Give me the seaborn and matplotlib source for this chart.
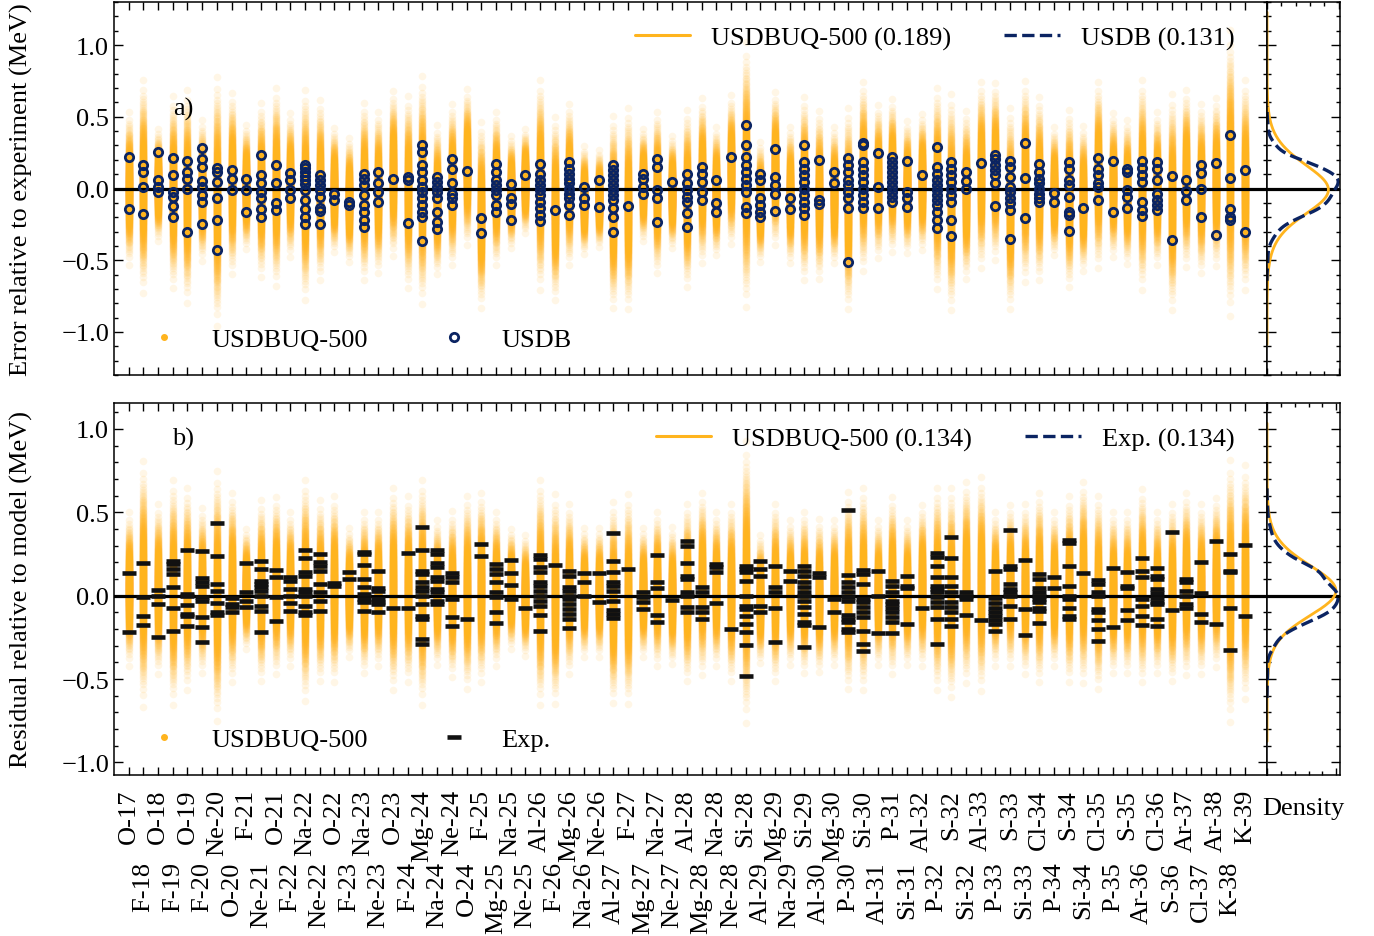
import numpy as np
import pandas as pd
import matplotlib
matplotlib.use("Agg")
import matplotlib.pyplot as plt
import seaborn as sns
from matplotlib.lines import Line2D
from matplotlib.ticker import MultipleLocator
from statistics import NormalDist

# ---------------- data ----------------
nuclei = ["O-17", "F-18", "O-18", "F-19", "O-19", "F-20", "Ne-20", "O-20", "F-21", "Ne-21",
          "O-21", "F-22", "Na-22", "Ne-22", "O-22", "F-23", "Na-23", "Ne-23", "O-23", "F-24",
          "Mg-24", "Na-24", "Ne-24", "O-24", "F-25", "Mg-25", "Na-25", "Ne-25", "Al-26", "F-26",
          "Mg-26", "Na-26", "Ne-26", "Al-27", "F-27", "Mg-27", "Na-27", "Ne-27", "Al-28", "Mg-28",
          "Na-28", "Ne-28", "Si-28", "Al-29", "Mg-29", "Na-29", "Si-29", "Al-30", "Mg-30", "P-30",
          "Si-30", "Al-31", "P-31", "Si-31", "Al-32", "P-32", "S-32", "Si-32", "Al-33", "P-33",
          "S-33", "Si-33", "Cl-34", "P-34", "S-34", "Si-34", "Cl-35", "P-35", "S-35", "Ar-36",
          "Cl-36", "S-36", "Ar-37", "Cl-37", "Ar-38", "K-38", "K-39"]

# USDB error relative to experiment (MeV), per nucleus
usdb_err = [
    [0.22, -0.144], [0.167, 0.113, 0.012, -0.178], [0.257, 0.058, 0.012, -0.023],
    [0.215, 0.093, -0.023, -0.058, -0.123, -0.197], [0.19, 0.116, 0.069, 0.0, -0.30],
    [0.285, 0.208, 0.15, 0.051, 0.012, -0.046, -0.093, -0.25], [0.144, 0.116, 0.046, -0.069, -0.22, -0.428],
    [0.127, 0.069, -0.007], [0.069, -0.012, -0.162], [0.231, 0.093, 0.035, -0.023, -0.069, -0.144, -0.2],
    [0.162, 0.039, -0.1, -0.15], [0.111, 0.058, -0.012, -0.069],
    [0.162, 0.14, 0.116, 0.09, 0.06, 0.03, -0.01, -0.08, -0.14, -0.2, -0.25],
    [0.093, 0.058, 0.023, -0.012, -0.058, -0.139, -0.16, -0.248], [-0.035, -0.081], [-0.097, -0.116],
    [0.104, 0.069, 0.023, -0.046, -0.116, -0.162, -0.22, -0.266], [0.116, 0.035, -0.023, -0.093], [0.069],
    [0.081, 0.058, -0.243],
    [0.30, 0.255, 0.162, 0.116, 0.058, 0.012, -0.023, -0.069, -0.116, -0.162, -0.197, -0.366],
    [0.081, 0.046, 0.012, -0.023, -0.069, -0.162, -0.231, -0.282], [0.208, 0.134, 0.035, -0.035, -0.069, -0.116],
    [0.123], [-0.208, -0.308], [0.169, 0.116, 0.058, 0.023, -0.012, -0.046, -0.116, -0.162],
    [0.028, -0.065, -0.109, -0.222], [0.093],
    [0.174, 0.104, 0.058, 0.023, -0.012, -0.046, -0.093, -0.139, -0.185, -0.227], [-0.15],
    [0.185, 0.139, 0.104, 0.069, 0.035, 0.0, -0.035, -0.069, -0.116, -0.185], [0.007, -0.069, -0.116],
    [0.058, -0.13], [0.162, 0.127, 0.093, 0.058, 0.023, -0.012, -0.046, -0.081, -0.139, -0.197, -0.30],
    [-0.12], [0.104, 0.069, 0.012, -0.035], [0.208, 0.15, -0.012, -0.069, -0.236], [0.046],
    [0.104, 0.035, -0.012, -0.058, -0.093, -0.174, -0.266], [0.15, 0.104, 0.046, -0.023, -0.081],
    [0.062, -0.104, -0.162], [0.22], [0.44, 0.30, 0.22, 0.162, 0.116, 0.069, 0.023, -0.023, -0.127, -0.174],
    [0.104, 0.058, -0.069, -0.116, -0.162, -0.197], [0.278, 0.081, 0.023, -0.035, -0.157], [-0.069, -0.144],
    [0.30, 0.185, 0.139, 0.093, 0.046, 0.0, -0.046, -0.093, -0.139, -0.185], [0.20, -0.081, -0.109],
    [0.116, 0.035], [0.213, 0.162, 0.116, 0.058, 0.023, -0.023, -0.069, -0.139, -0.509],
    [0.319, 0.30, 0.185, 0.139, 0.093, 0.046, 0.0, -0.046, -0.093, -0.139], [0.248, 0.012, -0.134],
    [0.22, 0.185, 0.15, 0.116, 0.081, 0.046, 0.012, -0.023, -0.058, -0.097], [0.192, -0.023, -0.069, -0.127],
    [0.093], [0.289, 0.15, 0.104, 0.058, 0.023, -0.012, -0.046, -0.081, -0.116, -0.162, -0.22, -0.278],
    [0.185, 0.139, 0.093, 0.046, 0.0, -0.046, -0.093, -0.22, -0.329], [0.116, 0.051, 0.0], [0.18],
    [0.231, 0.208, 0.162, 0.127, 0.093, 0.035, -0.12], [0.19, 0.15, 0.081, 0.012, -0.023, -0.069, -0.104, -0.15, -0.352],
    [0.317, 0.074, -0.208], [0.169, 0.116, 0.069, 0.035, 0.0, -0.035, -0.069, -0.093], [-0.03, -0.093],
    [0.185, 0.139, 0.058, 0.023, -0.062, -0.162, -0.185, -0.294], [-0.139], [0.213, 0.139, 0.093, 0.035, 0.012, -0.081],
    [0.19, -0.162], [0.139, 0.116, -0.012, -0.058, -0.134], [0.19, 0.146, 0.093, 0.046, -0.093, -0.15, -0.19],
    [0.185, 0.134, 0.058, -0.035, -0.081, -0.116, -0.15], [0.088, -0.361], [0.062, -0.019, -0.081],
    [0.162, 0.109, 0.0, -0.201], [0.178, -0.326], [0.375, 0.074, -0.146, -0.197, -0.22], [0.127, -0.30],
]

# Experiment residual relative to model mean (MeV), per nucleus
exp_resid = [
    [0.136, -0.216], [0.194, -0.01, -0.12, -0.176], [0.034, 0.0, -0.05, -0.245],
    [0.21, 0.19, 0.16, 0.13, 0.05, -0.076, -0.21], [0.275, 0.01, 0.0, -0.056, -0.11, -0.12, -0.18],
    [0.27, 0.104, 0.084, 0.06, -0.01, -0.03, -0.13, -0.19, -0.275], [0.435, 0.236, 0.07, 0.03, -0.044, -0.1, -0.116],
    [-0.016, -0.05, -0.07, -0.1], [0.194, 0.02, -0.034, -0.07],
    [0.21, 0.16, 0.09, 0.07, 0.05, 0.03, -0.004, -0.06, -0.09, -0.22], [0.154, 0.114, -0.01, -0.15],
    [0.11, 0.09, 0.04, 0.0, -0.044, -0.094], [0.273, 0.226, 0.14, 0.12, 0.04, 0.02, 0.0, -0.064, -0.096, -0.116],
    [0.25, 0.2, 0.18, 0.15, 0.07, 0.02, -0.03, -0.09], [0.076, 0.06], [0.14, 0.1],
    [0.26, 0.25, 0.186, 0.1, 0.05, 0.01, -0.02, -0.04, -0.094], [0.146, 0.044, 0.03, -0.02, -0.036, -0.05, -0.1],
    [-0.076], [0.253, -0.076],
    [0.413, 0.275, 0.15, 0.13, 0.08, 0.05, 0.03, 0.0, -0.05, -0.12, -0.14, -0.26, -0.29],
    [0.275, 0.25, 0.196, 0.17, 0.11, 0.09, 0.04, 0.02, -0.03, -0.05], [0.134, 0.11, 0.08, -0.02, -0.13, -0.18],
    [-0.14], [0.31, 0.24], [0.19, 0.16, 0.13, 0.08, 0.02, -0.01, -0.1, -0.164], [0.216, 0.136, 0.064, -0.02],
    [-0.076], [0.245, 0.22, 0.17, 0.14, 0.08, 0.06, 0.03, 0.0, -0.03, -0.06, -0.116, -0.21], [0.184],
    [0.15, 0.12, 0.05, 0.03, 0.0, -0.02, -0.05, -0.08, -0.11, -0.14, -0.196], [0.138, 0.08, 0.0],
    [0.138, -0.036], [0.373, 0.206, 0.144, 0.08, 0.056, 0.03, -0.03, -0.084, -0.11, -0.136], [0.16],
    [0.024, -0.01, -0.04, -0.08], [0.245, 0.08, 0.044, -0.116, -0.156], [-0.026],
    [0.325, 0.3, 0.196, 0.12, 0.1, 0.024, 0.0, -0.07, -0.096], [0.05, 0.02, -0.07, -0.1, -0.14],
    [0.19, 0.17, 0.14, -0.044], [-0.2], [0.18, 0.16, 0.14, 0.09, 0.0, -0.06, -0.08, -0.12, -0.17, -0.22, -0.295, -0.483],
    [0.21, 0.16, 0.12, -0.06, -0.1], [0.18, 0.05, 0.02, -0.074, -0.28], [0.15, 0.09],
    [0.18, 0.15, 0.12, 0.08, 0.05, 0.02, 0.0, -0.03, -0.07, -0.11, -0.156, -0.176, -0.31], [0.134, 0.114, -0.19],
    [-0.02, -0.1], [0.513, 0.124, 0.08, 0.05, 0.02, -0.01, -0.03, -0.116, -0.14, -0.16, -0.2, -0.22],
    [0.156, 0.13, 0.07, -0.02, -0.04, -0.07, -0.1, -0.13, -0.21, -0.29, -0.33], [0.146, 0.0, -0.226],
    [0.09, 0.06, 0.024, -0.03, -0.05, -0.076, -0.1, -0.13, -0.156, -0.226], [0.12, 0.06, 0.044, -0.17], [-0.076],
    [0.253, 0.23, 0.18, 0.11, 0.06, 0.04, 0.02, -0.01, -0.04, -0.07, -0.14, -0.29],
    [0.35, 0.226, 0.114, 0.06, 0.02, -0.04, -0.07, -0.1, -0.14, -0.18], [0.02, 0.0, -0.02, -0.116], [-0.146],
    [0.15, -0.016, -0.044, -0.076, -0.1, -0.124, -0.146, -0.17, -0.21], [0.393, 0.18, 0.16, 0.07, 0.04, 0.02, 0.0, -0.064, -0.14],
    [0.216, -0.08, -0.236], [0.13, 0.1, 0.044, 0.02, 0.0, -0.02, -0.04, -0.076, -0.09, -0.164], [0.11, 0.044],
    [0.333, 0.313, 0.18, 0.056, 0.0, -0.02, -0.076, -0.12, -0.14], [0.134],
    [0.094, 0.07, 0.024, 0.0, -0.08, -0.1, -0.144, -0.2, -0.27], [0.164, -0.19], [0.144, 0.06, 0.044, -0.086, -0.144],
    [0.224, 0.15, 0.11, -0.02, -0.06, -0.12, -0.174], [0.164, 0.12, 0.1, 0.04, 0.014, -0.016, -0.036, -0.05, -0.14, -0.18],
    [0.383, -0.086], [0.1, 0.084, 0.03, 0.0, -0.05, -0.076], [0.2, 0.014, -0.11, -0.156], [0.325, -0.17],
    [0.25, 0.15, 0.14, -0.074, -0.323], [0.305, -0.12],
]

# extent of the dense USDBUQ-500 sample cloud for each nucleus (MeV)
cloud_a_hi = [0.44, 0.63, 0.35, 0.53, 0.56, 0.39, 0.63, 0.56, 0.37, 0.49, 0.58, 0.44, 0.56, 0.51, 0.35, 0.28, 0.49, 0.44, 0.58, 0.53,
              0.65, 0.35, 0.49, 0.60, 0.35, 0.44, 0.30, 0.35, 0.63, 0.39, 0.49, 0.23, 0.21, 0.39, 0.44, 0.35, 0.44, 0.30, 0.44, 0.53,
              0.35, 0.56, 0.86, 0.25, 0.58, 0.35, 0.53, 0.44, 0.35, 0.44, 0.63, 0.49, 0.53, 0.39, 0.44, 0.58, 0.53, 0.44, 0.63,
              0.63, 0.44, 0.63, 0.53, 0.35, 0.44, 0.35, 0.63, 0.44, 0.39, 0.63, 0.44, 0.53, 0.58, 0.49, 0.53, 0.93, 0.63]
cloud_a_lo = [-0.44, -0.60, -0.30, -0.58, -0.67, -0.42, -0.81, -0.49, -0.35, -0.51, -0.56, -0.39, -0.65, -0.53, -0.37, -0.44, -0.53, -0.49, -0.37, -0.58,
              -0.67, -0.51, -0.44, -0.30, -0.72, -0.44, -0.35, -0.25, -0.58, -0.67, -0.44, -0.39, -0.35, -0.72, -0.72, -0.30, -0.49, -0.35, -0.58, -0.42,
              -0.39, -0.30, -0.67, -0.44, -0.30, -0.44, -0.53, -0.53, -0.44, -0.72, -0.46, -0.39, -0.35, -0.37, -0.35, -0.58, -0.72, -0.53, -0.44,
              -0.39, -0.72, -0.53, -0.53, -0.39, -0.58, -0.49, -0.44, -0.39, -0.44, -0.58, -0.44, -0.72, -0.44, -0.49, -0.44, -0.72, -0.58]
cloud_b_hi = [0.42, 0.68, 0.46, 0.58, 0.54, 0.44, 0.62, 0.52, 0.34, 0.48, 0.50, 0.42, 0.58, 0.48, 0.50, 0.34, 0.42, 0.42, 0.54, 0.50,
              0.58, 0.38, 0.42, 0.50, 0.52, 0.42, 0.34, 0.30, 0.58, 0.50, 0.46, 0.34, 0.34, 0.46, 0.50, 0.34, 0.42, 0.34, 0.46, 0.52,
              0.42, 0.46, 0.78, 0.30, 0.46, 0.38, 0.42, 0.38, 0.38, 0.52, 0.54, 0.38, 0.50, 0.38, 0.46, 0.54, 0.54, 0.58, 0.60,
              0.42, 0.46, 0.46, 0.52, 0.42, 0.50, 0.58, 0.50, 0.42, 0.42, 0.54, 0.42, 0.46, 0.52, 0.46, 0.50, 0.68, 0.66]
cloud_b_lo = [-0.34, -0.54, -0.38, -0.54, -0.46, -0.38, -0.62, -0.42, -0.26, -0.42, -0.38, -0.34, -0.52, -0.42, -0.42, -0.30, -0.38, -0.34, -0.46, -0.42,
              -0.54, -0.34, -0.40, -0.46, -0.42, -0.34, -0.26, -0.30, -0.54, -0.54, -0.38, -0.30, -0.30, -0.54, -0.54, -0.30, -0.34, -0.34, -0.42, -0.38,
              -0.34, -0.42, -0.62, -0.34, -0.42, -0.34, -0.38, -0.38, -0.34, -0.46, -0.46, -0.34, -0.38, -0.34, -0.34, -0.46, -0.50, -0.42, -0.46,
              -0.34, -0.34, -0.38, -0.42, -0.34, -0.42, -0.42, -0.46, -0.38, -0.38, -0.42, -0.38, -0.42, -0.38, -0.38, -0.34, -0.62, -0.50]

rms_a = [0.189, 0.131]   # USDBUQ-500, USDB
rms_b = [0.134, 0.134]   # USDBUQ-500, Exp.
N_SAMPLES = 900

# ---------------- style ----------------
ORANGE = "#ffb41e"
NAVY = "#0b2462"
sns.set_theme(style="ticks")
plt.rcParams.update({
    "font.family": ["Liberation Serif", "DejaVu Serif"],
    "font.size": 19,
    "axes.linewidth": 1.1,
    "axes.edgecolor": "black",
    "xtick.direction": "in", "ytick.direction": "in",
    "xtick.top": True, "ytick.right": True,
    "xtick.major.size": 6, "ytick.major.size": 6.5,
    "xtick.minor.size": 3.2, "ytick.minor.size": 3.2,
    "xtick.major.width": 1.0, "ytick.major.width": 1.0,
    "xtick.minor.width": 1.0, "ytick.minor.width": 1.0,
    "xtick.labelsize": 19, "ytick.labelsize": 19,
    "axes.labelsize": 19, "legend.fontsize": 19,
    "xtick.color": "black", "ytick.color": "black",
    "text.color": "black", "axes.labelcolor": "black",
})

W, H = 1374, 937
fig = plt.figure(figsize=(W / 100, H / 100), dpi=100)


def px_axes(l, t, r, b):
    return fig.add_axes([l / W, 1 - b / H, (r - l) / W, (b - t) / H])


ax_a = px_axes(114, 3, 1267, 376)
axd_a = px_axes(1267, 3, 1340, 376)
ax_b = px_axes(114, 404, 1267, 776)
axd_b = px_axes(1267, 404, 1340, 776)

Z = np.array([NormalDist().inv_cdf((k + 0.5) / N_SAMPLES) for k in range(N_SAMPLES)])


def cloud_frame(hi, lo):
    parts = []
    for i, (h, l) in enumerate(zip(hi, lo)):
        c = 0.5 * (h + l)
        s = (h - l) / 5.4
        parts.append(pd.DataFrame({"x": float(i), "y": c + s * Z}))
    return pd.concat(parts, ignore_index=True)


def points_frame(lists):
    xs, ys = [], []
    for i, vals in enumerate(lists):
        xs += [i] * len(vals)
        ys += list(vals)
    return pd.DataFrame({"x": xs, "y": ys})


cloud_a = cloud_frame(cloud_a_hi, cloud_a_lo)
cloud_b = cloud_frame(cloud_b_hi, cloud_b_lo)
usdb_df = points_frame(usdb_err)
exp_df = points_frame(exp_resid)

YLIM_A = (-1.3, 1.3)
YLIM_B = (-1.075, 1.155)
XLIM = (-1.0, 77.5)


def style_main(ax, ylim):
    ax.set_xlim(*XLIM)
    ax.set_ylim(*ylim)
    ax.set_xticks(range(len(nuclei)))
    ax.yaxis.set_major_locator(MultipleLocator(0.5))
    ax.yaxis.set_minor_locator(MultipleLocator(0.1))
    ax.tick_params(axis="x", which="major", length=6, top=True, bottom=True)
    ax.tick_params(axis="x", which="minor", bottom=False, top=False)
    ax.tick_params(axis="y", which="major", length=6.5, left=True, right=True)
    ax.tick_params(axis="y", which="minor", length=3.2, left=True, right=True)
    ax.axhline(0, color="black", lw=2.3, zorder=2)


def style_density(axd, ylim):
    axd.set_ylim(*ylim)
    axd.yaxis.set_major_locator(MultipleLocator(0.5))
    axd.yaxis.set_minor_locator(MultipleLocator(0.1))
    axd.xaxis.set_major_locator(MultipleLocator(2.5))
    axd.xaxis.set_minor_locator(MultipleLocator(0.5))
    axd.tick_params(which="both", labelbottom=False, labelleft=False, top=True, bottom=True, left=True, right=True)
    axd.tick_params(axis="x", which="major", length=5)
    axd.tick_params(axis="x", which="minor", length=3)
    axd.set_ylabel("")
    axd.axhline(0, color="black", lw=2.3, zorder=1)
    peak = max(np.max(l.get_xdata()) for l in axd.lines[:2])
    axd.set_xlim(0, peak / 0.975)


def add_legends(ax, top_labels, bottom_labels, bottom_handle):
    top = ax.legend([Line2D([], [], color=ORANGE, lw=2.2), Line2D([], [], color=NAVY, lw=2.4, ls="--")],
                    top_labels, loc="upper right", bbox_to_anchor=(1 - 9 / 1153, 1.0),
                    ncol=2, frameon=False, columnspacing=2.0, handlelength=2.1)
    ax.add_artist(top)
    ax.legend([Line2D([], [], ls="none", marker="o", color=ORANGE, ms=4), bottom_handle],
              bottom_labels, loc="lower left", ncol=2, frameon=False, columnspacing=2.25)


# ---------------- panel a ----------------
sns.scatterplot(data=cloud_a, x="x", y="y", color=ORANGE, alpha=0.11, s=30, linewidth=0,
                ax=ax_a, legend=False, zorder=1)
ax_a.plot(usdb_df["x"], usdb_df["y"], ls="none", marker="o", mfc="none", mec=NAVY, mew=2.0, ms=6.0, zorder=3)
style_main(ax_a, YLIM_A)
ax_a.tick_params(axis="x", labelbottom=False)
ax_a.set_xlabel("")
ax_a.set_ylabel("Error relative to experiment (MeV)")
ax_a.yaxis.set_label_coords(-0.07, 0.5)
ax_a.text(3.7, 0.555, "a)", ha="center", va="center")
add_legends(ax_a, [f"USDBUQ-500 ({rms_a[0]:.3f})", f"USDB ({rms_a[1]:.3f})"], ["USDBUQ-500", "USDB"],
            Line2D([], [], ls="none", marker="o", mfc="none", mec=NAVY, mew=2.0, ms=6.0))

sns.kdeplot(y=cloud_a["y"], ax=axd_a, color=ORANGE, lw=2.0, cut=6)
sns.kdeplot(y=usdb_df["y"], ax=axd_a, color=NAVY, lw=2.4, ls="--")
style_density(axd_a, YLIM_A)
axd_a.set_xlabel("")

# ---------------- panel b ----------------
sns.scatterplot(data=cloud_b, x="x", y="y", color=ORANGE, alpha=0.11, s=30, linewidth=0,
                ax=ax_b, legend=False, zorder=1)
ax_b.plot(exp_df["x"], exp_df["y"], ls="none", marker="_", color="#111111", mew=3.3, ms=10, zorder=3)
style_main(ax_b, YLIM_B)
ax_b.set_xticklabels(nuclei, rotation=90)
ax_b.set_xlabel("")
ax_b.set_ylabel("Residual relative to model (MeV)")
ax_b.yaxis.set_label_coords(-0.07, 0.5)
ax_b.text(3.7, 0.945, "b)", ha="center", va="center")
add_legends(ax_b, [f"USDBUQ-500 ({rms_b[0]:.3f})", f"Exp. ({rms_b[1]:.3f})"], ["USDBUQ-500", "Exp."],
            Line2D([], [], ls="none", marker="_", color="#111111", mew=3.3, ms=10))

sns.kdeplot(y=cloud_b["y"], ax=axd_b, color=ORANGE, lw=2.0, cut=6)
sns.kdeplot(y=exp_df["y"], ax=axd_b, color=NAVY, lw=2.4, ls="--")
style_density(axd_b, YLIM_B)
axd_b.set_xlabel("Density")
axd_b.xaxis.set_label_coords(0.5, -0.06)

# alternate label rows
for i, t in enumerate(ax_b.xaxis.get_major_ticks()):
    t.set_pad(10 if i % 2 == 0 else 62)

fig.savefig("out.png", dpi=100)
